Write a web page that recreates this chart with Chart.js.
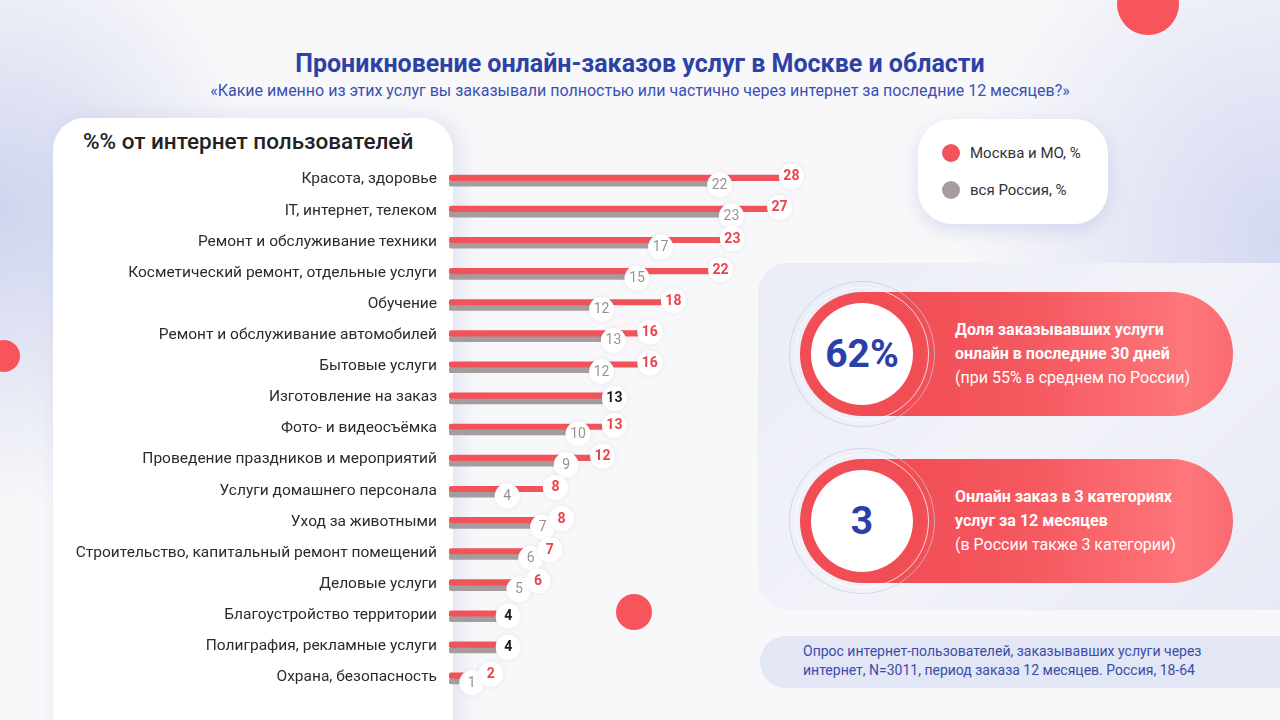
<!DOCTYPE html>
<html lang="ru">
<head>
<meta charset="utf-8">
<script src="https://cdn.jsdelivr.net/npm/chart.js@4.4.1/dist/chart.umd.min.js"></script>
<style>
  body { margin: 0; font-family: Roboto, "Noto Sans", sans-serif; }
  #page {
    position: relative; width: 1280px; height: 720px; overflow: hidden;
    background:
      radial-gradient(ellipse 260px 300px at 0px 210px, rgba(200,206,236,0.85), rgba(200,206,236,0) 100%),
      radial-gradient(ellipse 320px 360px at 1280px 240px, rgba(206,211,240,0.85), rgba(206,211,240,0) 100%),
      #f8f8fa;
  }
  .abs { position: absolute; }
  .dot { position: absolute; border-radius: 50%; background: #f7555b; }
  #title { top: 49px; left: 0; width: 1280px; text-align: center; font-weight: 700; font-size: 25px; line-height: 30px; color: #2c42a6; }
  #subtitle { top: 81px; left: 0; width: 1280px; text-align: center; font-size: 16px; line-height: 19px; color: #3a50b4; }
  #panel { left: 53px; top: 118px; width: 400px; height: 640px; background: #fff; border-radius: 32px 32px 0 0;
    box-shadow: 6px 0 22px rgba(176,184,224,0.35); }
  #panelHead { left: 83px; top: 127px; font-size: 22.5px; font-weight: 500; line-height: 28px; color: #222; }
  #wrap { left: 0; top: 0; width: 820px; height: 720px; }
  #legend { left: 918px; top: 119px; width: 190px; height: 105px; background: #fff; border-radius: 34px;
    box-shadow: 0 6px 18px rgba(160,170,220,0.35); }
  .lg { position: absolute; left: 24px; height: 20px; font-size: 15px; line-height: 20px; color: #333; }
  .lg i { position: absolute; left: 0; top: 1px; width: 18px; height: 18px; border-radius: 50%; }
  .lg span { position: absolute; left: 28px; white-space: nowrap; }
  #side { left: 758px; top: 263px; width: 540px; height: 347px; border-radius: 30px 0 0 30px;
    background: linear-gradient(135deg, #eaecf6 0%, #f2f3f9 50%, #e7e9f5 100%); }
  .pill { position: absolute; left: 862px; width: 371px; height: 124px; border-radius: 0 62px 62px 0;
    background: linear-gradient(90deg, #f14a52 0%, #f5585f 45%, #fd777b 88%, #f96a70 100%); }
  .ring { position: absolute; border-radius: 50%; box-sizing: border-box; }
  .ptext { position: absolute; left: 955px; font-size: 16px; line-height: 24px; color: #fff; white-space: nowrap; }
  .ptext b { font-weight: 700; }
  .big { position: absolute; width: 100px; text-align: center; font-weight: 700; font-size: 39px; line-height: 46px; color: #2a40a9; }
  #note { left: 760px; top: 636px; width: 540px; height: 52px; border-radius: 26px 0 0 26px; background: #e3e6f4; }
  #noteText { left: 803px; top: 642px; font-size: 14px; line-height: 19px; color: #3b4daa; white-space: nowrap; }
</style>
</head>
<body>
<div id="page">
  <div class="dot" style="left:1117px; top:-27px; width:62px; height:62px;"></div>
  <div class="dot" style="left:-12px; top:340px; width:32px; height:32px;"></div>
  <div class="dot" style="left:616px; top:594px; width:36px; height:36px;"></div>

  <div id="title" class="abs">Проникновение онлайн-заказов услуг в Москве и области</div>
  <div id="subtitle" class="abs">«Какие именно из этих услуг вы заказывали полностью или частично через интернет за последние 12 месяцев?»</div>

  <div id="panel" class="abs"></div>
  <div id="panelHead" class="abs">%% от интернет пользователей</div>

  <div id="legend" class="abs"></div>

  <div id="side" class="abs"></div>
  <div id="cards"></div>

  <div id="note" class="abs"></div>
  <div id="noteText" class="abs">Опрос интернет-пользователей, заказывавших услуги через<br>интернет, N=3011, период заказа 12 месяцев. Россия, 18-64</div>

  <div id="wrap" class="abs"><canvas id="chart"></canvas></div>
</div>
<script>
const categories = [
  'Красота, здоровье',
  'IT, интернет, телеком',
  'Ремонт и обслуживание техники',
  'Косметический ремонт, отдельные услуги',
  'Обучение',
  'Ремонт и обслуживание автомобилей',
  'Бытовые услуги',
  'Изготовление на заказ',
  'Фото- и видеосъёмка',
  'Проведение праздников и мероприятий',
  'Услуги домашнего персонала',
  'Уход за животными',
  'Строительство, капитальный ремонт помещений',
  'Деловые услуги',
  'Благоустройство территории',
  'Полиграфия, рекламные услуги',
  'Охрана, безопасность'
]
const moscow = [28, 27, 23, 22, 18, 16, 16, 13, 13, 12, 8, 8, 7, 6, 4, 4, 2]
const russia = [22, 23, 17, 15, 12, 13, 12, 13, 10, 9, 4, 7, 6, 5, 4, 4, 1]
const seriesNames = ['Москва и МО, %', 'вся Россия, %']
const seriesColors = ['#f2535a', '#a59d9d']

const cardBig = ['62%', '3']
const cardBold = [
  ['Доля заказывавших услуги', 'онлайн в последние 30 дней'],
  ['Онлайн заказ в 3 категориях', 'услуг за 12 месяцев']
]
const cardNote = ['(при 55% в среднем по России)', '(в России также 3 категории)']

// legend
const legend = document.getElementById('legend')
seriesNames.forEach((name, i) => {
  const row = document.createElement('div')
  row.className = 'lg'
  row.style.top = (24 + i * 37) + 'px'
  row.innerHTML = '<i style="background:' + seriesColors[i] + '"></i><span>' + name + '</span>'
  legend.appendChild(row)
})

// side cards
const cards = document.getElementById('cards')
const cardTops = [292, 459]
cardBig.forEach((txt, i) => {
  const top = cardTops[i]
  const cy = top + 62
  const cx = 862
  let html = '<div class="pill" style="top:' + top + 'px"></div>'
  html += '<div class="ring" style="left:' + (cx - 73) + 'px;top:' + (cy - 73) + 'px;width:146px;height:146px;border:1.5px solid rgba(196,202,226,0.7)"></div>'
  html += '<div class="ring" style="left:' + (cx - 67) + 'px;top:' + (cy - 67) + 'px;width:134px;height:134px;border:1.5px solid rgba(255,255,255,0.75)"></div>'
  html += '<div class="ring" style="left:' + (cx - 62) + 'px;top:' + (cy - 62) + 'px;width:124px;height:124px;background:#f04d55"></div>'
  html += '<div class="ring" style="left:' + (cx - 51) + 'px;top:' + (cy - 51) + 'px;width:102px;height:102px;background:#fff"></div>'
  html += '<div class="big" style="left:' + (cx - 50) + 'px;top:' + (cy - 23) + 'px">' + txt + '</div>'
  html += '<div class="ptext" style="top:' + (top + 26) + 'px"><b>' + cardBold[i][0] + '</b><br><b>' + cardBold[i][1] + '</b><br>' + cardNote[i] + '</div>'
  cards.insertAdjacentHTML('beforeend', html)
})

function bubble(ctx, x, y, text, font, color) {
  ctx.save()
  ctx.shadowColor = 'rgba(90,100,150,0.12)'
  ctx.shadowBlur = 5
  ctx.fillStyle = '#fff'
  ctx.beginPath()
  ctx.arc(x, y, 12.5, 0, Math.PI * 2)
  ctx.fill()
  ctx.restore()
  ctx.font = font
  ctx.fillStyle = color
  ctx.fillText(text, x, y + 0.5)
}

// value bubbles; the red one is pushed right when it would sit on the grey one
const valueLabels = {
  id: 'valueLabels',
  afterDatasetsDraw(chart) {
    const ctx = chart.ctx
    const red = chart.getDatasetMeta(0).data
    const grey = chart.getDatasetMeta(1).data
    ctx.save()
    ctx.textAlign = 'center'
    ctx.textBaseline = 'middle'
    red.forEach((bar, i) => {
      const g = grey[i]
      if (moscow[i] === russia[i]) {
        bubble(ctx, Math.max(bar.x, g.x) + 12, (bar.y + g.y) / 2, String(moscow[i]), 'bold 14px Roboto', '#1a1a1a')
        return
      }
      const gx = g.x + 11
      bubble(ctx, gx, g.y + 1.5, String(russia[i]), '14px Roboto', '#9a9292')
      bubble(ctx, Math.max(bar.x + 12, gx + 19), bar.y - 1.5, String(moscow[i]), 'bold 14px Roboto', '#e9434d')
    })
    ctx.restore()
  }
}

const barStyle = {
  barThickness: 5.5,
  borderSkipped: false,
  borderRadius: { topLeft: 3, bottomLeft: 3, topRight: 0, bottomRight: 0 },
}

new Chart(document.getElementById('chart'), {
  type: 'bar',
  data: {
    labels: categories,
    datasets: [
      { label: seriesNames[0], data: moscow, backgroundColor: seriesColors[0], ...barStyle },
      { label: seriesNames[1], data: russia, backgroundColor: seriesColors[1], ...barStyle },
    ],
  },
  options: {
    indexAxis: 'y',
    responsive: true,
    maintainAspectRatio: false,
    animation: false,
    layout: { padding: { top: 165, bottom: 26, left: 0, right: 17 } },
    plugins: { legend: { display: false }, tooltip: { enabled: false } },
    scales: {
      x: { display: false, min: 0, max: 30 },
      y: {
        afterFit(scale) { scale.width = 449 },
        grid: { display: false, drawTicks: false },
        border: { display: false },
        ticks: {
          padding: 12,
          labelOffset: -1,
          color: '#2b2b2b',
          font: { family: 'Roboto', size: 15.5 },
        },
      },
    },
  },
  plugins: [valueLabels],
})
</script>
</body>
</html>
